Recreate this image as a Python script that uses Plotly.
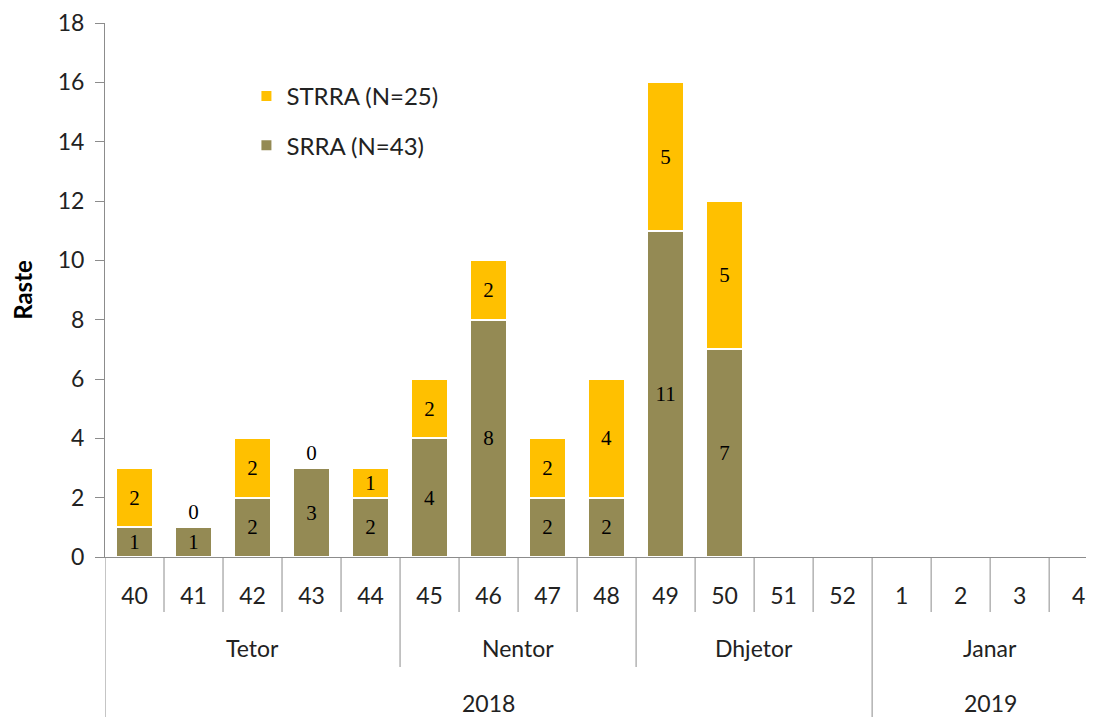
import plotly.graph_objects as go

weeks = ["40", "41", "42", "43", "44", "45", "46", "47", "48", "49", "50", "51", "52", "1", "2", "3", "4"]
months = ["Tetor"] * 5 + ["Nentor"] * 4 + ["Dhjetor"] * 4 + ["Janar"] * 4
years = ["2018"] * 13 + ["2019"] * 4
srra = [1, 1, 2, 3, 2, 4, 8, 2, 2, 11, 7, None, None, None, None, None, None]
strra = [2, 0, 2, 0, 1, 2, 2, 2, 4, 5, 5, None, None, None, None, None, None]
srra_name = "SRRA (N=43)"
strra_name = "STRRA (N=25)"

FONT = "Lato, Open Sans, sans-serif"
LFONT = "Liberation Serif, serif"
OLIVE = "#948A54"
YELLOW = "#FFC000"
GRID = "#8c8c8c"
TXT = "#222"

# page offset (body margin of 8px)
OFF = 8
plot_top, plot_bottom = 23, 557  # page pixels
ph = plot_bottom - plot_top


def py(pix):
    return (plot_bottom - pix) / ph


def pos(vals):
    return ["inside" if (v is not None and v > 0) else "outside" for v in vals]


fig = go.Figure()
fig.add_trace(go.Bar(
    x=weeks, y=srra, name=srra_name, legendgroup="a", legendrank=2,
    marker=dict(color=OLIVE, line=dict(color="white", width=2)),
    text=[("" if v is None else str(v)) for v in srra], textposition=pos(srra),
    insidetextanchor="middle", textangle=0,
    textfont=dict(family=LFONT, size=21, color="black"), cliponaxis=False,
))
fig.add_trace(go.Bar(
    x=weeks, y=strra, name=strra_name, legendgroup="b", legendrank=1,
    marker=dict(color=YELLOW, line=dict(color="white", width=2)),
    text=[("" if v is None else str(v)) for v in strra], textposition=pos(strra),
    insidetextanchor="middle", textangle=0,
    textfont=dict(family=LFONT, size=21, color="black"), cliponaxis=False,
))

shapes = []
annotations = []
n = len(weeks)
level_depth = {"week": py(612), "month": py(667), "year": py(717)}
for i in range(n + 1):
    xpos = i - 0.5
    if i == 0 or i == n or years[i] != years[i - 1]:
        d = level_depth["year"]
    elif months[i] != months[i - 1]:
        d = level_depth["month"]
    else:
        d = level_depth["week"]
    shapes.append(dict(type="line", xref="x", yref="paper", x0=xpos, x1=xpos,
                       y0=0, y1=d, line=dict(color=GRID, width=1)))


def group_centers(labels):
    out = []
    start = 0
    for i in range(1, n + 1):
        if i == n or labels[i] != labels[start]:
            out.append((labels[start], (start + i - 1) / 2))
            start = i
    return out


for lab, c in group_centers(months):
    annotations.append(dict(x=c, y=py(648), xref="x", yref="paper", text=lab,
                            yanchor="middle", xanchor="center",
                            showarrow=False, font=dict(family=FONT, size=23, color=TXT)))
for lab, c in group_centers(years):
    annotations.append(dict(x=c, y=py(703), xref="x", yref="paper", text=lab,
                            yanchor="middle", xanchor="center",
                            showarrow=False, font=dict(family=FONT, size=23, color=TXT)))

W, H = 1094 - OFF, 717 - OFF
fig.update_layout(
    width=W, height=H,
    margin=dict(l=105 - OFF, r=0, t=plot_top - OFF, b=H - (plot_bottom - OFF), autoexpand=False),
    paper_bgcolor="white", plot_bgcolor="white",
    barmode="stack", bargap=0.36,
    font=dict(family=FONT, size=22, color=TXT),
    showlegend=True,
    legend=dict(x=0.143, y=py(74), xanchor="left", yanchor="top",
                traceorder="grouped", tracegroupgap=15,
                font=dict(family=FONT, size=24, color=TXT),
                bgcolor="rgba(0,0,0,0)"),
    xaxis=dict(type="category", range=[-0.5, 16.26], showline=True, linecolor=GRID,
               linewidth=1, ticks="", showgrid=False, ticklabelstandoff=18, automargin=False,
               tickfont=dict(family=FONT, size=23, color=TXT)),
    yaxis=dict(range=[0, 18], dtick=2, showline=True, linecolor=GRID, linewidth=1,
               ticks="outside", ticklen=9, tickcolor=GRID, showgrid=False, zeroline=False,
               tickfont=dict(family=FONT, size=23, color=TXT), ticklabelstandoff=6,
               automargin=False,
               title=dict(text="<b>Raste</b>", font=dict(family=FONT, size=24, color="black"),
                          standoff=20)),
    shapes=shapes, annotations=annotations,
)

fig.write_html("out.html")
